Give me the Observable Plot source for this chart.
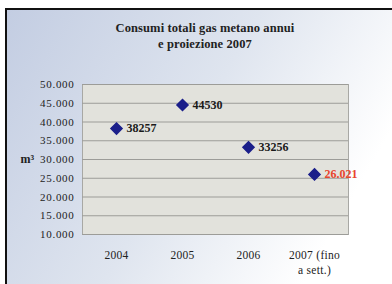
<!DOCTYPE html>
<html><head><meta charset="utf-8">
<script src="https://cdn.jsdelivr.net/npm/d3@7"></script>
<script src="https://cdn.jsdelivr.net/npm/@observablehq/plot@0.6"></script>
<style>
body{margin:0;background:#fff;}
#wrap{position:relative;width:392px;height:284px;overflow:hidden;background:#fff;}
#bg{position:absolute;left:5px;top:8px;width:400px;height:290px;border-left:2px solid #111;border-top:2px solid #111;
 background:linear-gradient(120deg,#c3cde2 0%,#dfe5ef 45%,#ffffff 80%);}
#title{position:absolute;left:0;width:410px;top:20px;text-align:center;font:bold 12.5px "Liberation Serif",serif;color:#222;line-height:16px;letter-spacing:0.1px;}
#chart{position:absolute;left:0;top:0;}
#chart svg text{font-family:"Liberation Serif",serif !important;}
#chart g[aria-label="y-axis tick label"] text{letter-spacing:0.7px;}
#chart g[aria-label="x-axis tick label"] text{letter-spacing:0.3px;}
</style></head>
<body><div id="wrap"><div id="bg"></div><div id="title">Consumi totali gas metano annui<br>e proiezione 2007</div><div id="chart"></div></div>
<script>
const categories = ["2004","2005","2006","2007"];
const tickLabels = ["2004","2005","2006","2007 (fino\na sett.)"];
const values = [38257, 44530, 33256, 26021];
const valueLabels = ["38257","44530","33256","26.021"];
const labelColors = ["#1a1a1a","#1a1a1a","#1a1a1a","#e8452c"];
const yTicks = [10000,15000,20000,25000,30000,35000,40000,45000,50000];

const data = categories.map((c,i)=>({cat:c, v:values[i], lab:valueLabels[i], col:labelColors[i]}));
const it = d3.formatLocale({decimal:",",thousands:".",grouping:[3],currency:["€",""]});
const fmt = it.format(",");

const chart = Plot.plot({
  width:392, height:284,
  marginLeft:82, marginRight:44, marginTop:84, marginBottom:50,
  style:{background:"transparent", fontFamily:"'Liberation Serif',serif", color:"#222"},
  x:{type:"point", domain:categories, padding:0.5},
  y:{domain:[10000,50000]},
  marks:[
    Plot.frame({fill:"#e2e2dc", stroke:"#a8a8a4"}),
    Plot.gridY(yTicks,{stroke:"#9c9c98", strokeOpacity:1}),
    Plot.axisY({ticks:yTicks, tickFormat:fmt, tickSize:0, tickPadding:8, fontSize:11, label:null}),
    Plot.axisX({tickFormat:(d)=>tickLabels[categories.indexOf(d)], tickSize:0, tickPadding:14, fontSize:11.5, lineHeight:1.3, label:null}),
    Plot.text(["m³"],{frameAnchor:"left", dx:-62, fontWeight:"bold", fontSize:12, fill:"#222"}),
    Plot.dot(data,{x:"cat", y:"v", symbol:"diamond2", r:5, fill:"#1b1f8a", stroke:"#1b1f8a"}),
    Plot.text(data,{x:"cat", y:"v", text:"lab", fill:"col", dx:10, textAnchor:"start", fontWeight:"bold", fontSize:12})
  ]
});
document.getElementById("chart").appendChild(chart);
</script></body></html>
